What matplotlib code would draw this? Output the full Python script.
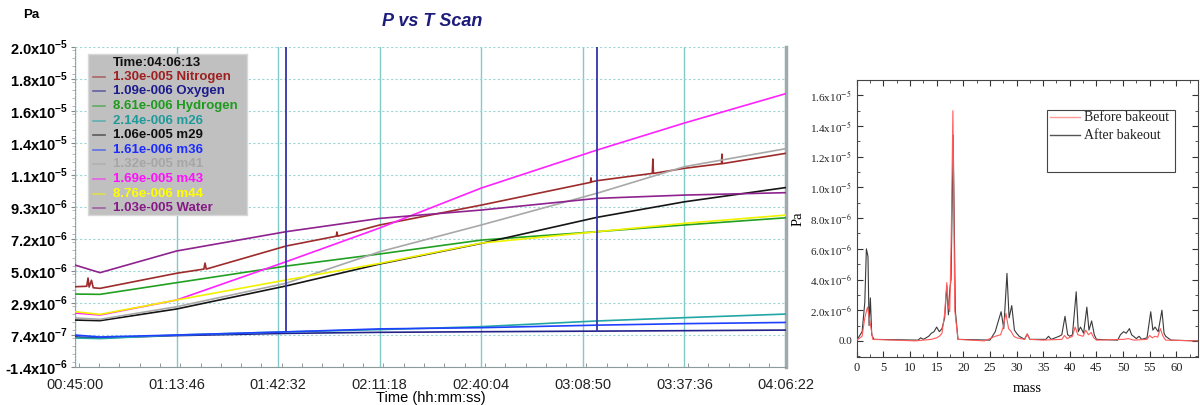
import matplotlib
matplotlib.use('Agg')
import matplotlib.pyplot as plt
from matplotlib.patches import Rectangle
from matplotlib.lines import Line2D
from matplotlib.ticker import FixedLocator, MultipleLocator

plt.rcParams['font.family'] = ['Liberation Sans', 'DejaVu Sans']
plt.rcParams['mathtext.fontset'] = 'custom'
plt.rcParams['mathtext.rm'] = 'Liberation Sans'
plt.rcParams['mathtext.bf'] = 'Liberation Sans:bold'
plt.rcParams['axes.unicode_minus'] = False

# ---- left panel: P vs T scan (values in 1e-6 Pa) ----
TIMES = ["00:45:00", "00:52:05", "01:13:46", "01:44:45", "02:11:18",
         "02:40:04", "03:12:49", "03:37:36", "04:06:13"]
OXYGEN = [0.61, 0.55, 0.70, 0.85, 0.92, 0.96, 1.00, 1.03, 1.07]
HYDROGEN = [3.48, 3.46, 4.24, 5.35, 6.16, 7.09, 7.65, 8.10, 8.58]
M26 = [0.54, 0.50, 0.74, 0.95, 1.10, 1.30, 1.68, 1.90, 2.14]
M29 = [1.74, 1.70, 2.48, 4.02, 5.49, 6.87, 8.61, 9.65, 10.6]
M36 = [0.74, 0.61, 0.74, 0.95, 1.15, 1.23, 1.40, 1.50, 1.58]
M41 = [1.88, 1.79, 2.63, 4.20, 6.31, 8.10, 10.22, 12.00, 13.2]
M43 = [2.21, 2.08, 3.08, 5.64, 7.90, 10.57, 13.11, 14.92, 16.88]
M44 = [2.30, 2.12, 3.08, 4.42, 5.53, 6.89, 7.65, 8.21, 8.76]
WATER = [5.42, 4.91, 6.36, 7.65, 8.54, 9.10, 9.88, 10.10, 10.26]

N2_TIMES = ["00:45:00", "00:48:20", "00:48:41", "00:49:00", "00:49:40",
            "00:50:10", "00:52:05", "01:13:46", "01:21:30", "01:21:49",
            "01:22:10", "01:44:45", "01:59:00", "01:59:11", "01:59:25",
            "02:11:18", "02:40:04", "03:11:00", "03:11:07", "03:11:15",
            "03:12:49", "03:28:30", "03:28:40", "03:28:50", "03:37:36",
            "03:48:05", "03:48:13", "03:48:20", "04:06:13"]
NITROGEN = [3.97, 4.00, 4.55, 3.95, 4.40, 3.90, 3.86, 4.87, 5.15, 5.55,
            5.15, 6.69, 7.35, 7.63, 7.35, 8.10, 9.43, 10.95, 11.25, 10.98,
            11.06, 11.55, 12.51, 11.55, 11.89, 12.20, 12.84, 12.20, 12.89]

CURSOR_TIMES = ["01:44:45", "03:12:49"]
CURSOR_BOTTOM = 1.0

XTICK_LABELS = ["00:45:00", "01:13:46", "01:42:32", "02:11:18",
                "02:40:04", "03:08:50", "03:37:36", "04:06:22"]
YTICKS = [-1.4, 0.74, 2.88, 5.02, 7.16, 9.30, 11.44, 13.58, 15.72, 17.86, 20.0]
YTICK_LABELS = ["-1.4x10$^{\\mathbf{-6}}$", "7.4x10$^{\\mathbf{-7}}$",
                "2.9x10$^{\\mathbf{-6}}$", "5.0x10$^{\\mathbf{-6}}$",
                "7.2x10$^{\\mathbf{-6}}$", "9.3x10$^{\\mathbf{-6}}$",
                "1.1x10$^{\\mathbf{-5}}$", "1.4x10$^{\\mathbf{-5}}$",
                "1.6x10$^{\\mathbf{-5}}$", "1.8x10$^{\\mathbf{-5}}$",
                "2.0x10$^{\\mathbf{-5}}$"]

LEGEND_TIME = "Time:04:06:13"
LEGEND_TEXT = ["1.30e-005 Nitrogen", "1.09e-006 Oxygen", "8.61e-006 Hydrogen",
               "2.14e-006 m26", "1.06e-005 m29", "1.61e-006 m36",
               "1.32e-005 m41", "1.69e-005 m43", "8.76e-006 m44",
               "1.03e-005 Water"]

# ---- right panel: mass spectrum (mass, 1e-6 Pa) ----
BEFORE = [(0, 0.05), (1.0, 0.3), (1.5, 1.5), (2.0, 2.2), (2.5, 1.2), (3.0, 0.1),
          (11, 0.0), (14, 0.1), (15, 0.2), (15.5, 0.3), (16, 0.5), (16.5, 1.8),
          (16.9, 3.8), (17.2, 2.2), (17.45, 1.9), (17.7, 6.0), (18.05, 15.0),
          (18.4, 2.0), (19, 0.1), (24, 0.0), (26, 0.3), (27, 0.4), (27.5, 0.9),
          (28.0, 1.8), (28.5, 0.8), (29.0, 0.6), (29.5, 0.3), (30, 0.2),
          (31.5, 0.1), (32, 0.45), (32.5, 0.1), (35, 0.05), (38.5, 0.1),
          (39, 0.35), (39.5, 0.15), (40.5, 0.3), (41, 0.9), (41.5, 0.4),
          (42, 0.35), (42.5, 0.3), (43, 0.7), (43.5, 0.4), (44, 0.55),
          (44.5, 0.2), (45, 0.05), (50, 0.1), (51, 0.15), (52, 0.05),
          (54.5, 0.1), (55, 0.35), (55.5, 0.2), (56, 0.3), (56.5, 0.25),
          (57, 0.8), (57.5, 0.3), (58, 0.05), (64, 0.0)]
AFTER = [(0, 0.05), (1.0, 0.6), (1.5, 2.5), (1.8, 6.0), (2.1, 5.5), (2.3, 1.0),
         (2.55, 2.8), (2.8, 0.4), (3.2, 0.1), (11.5, 0.05), (12, 0.2), (12.5, 0.1),
         (13.5, 0.3), (14, 0.5), (14.5, 0.6), (15, 0.9), (15.5, 0.6), (16, 0.8),
         (16.5, 1.5), (16.9, 3.6), (17.2, 1.7), (17.45, 3.3), (17.7, 4.0),
         (18.1, 13.4), (18.5, 2.0), (19, 0.1), (25, 0.05), (26, 0.6), (26.5, 1.2),
         (27.1, 1.9), (27.6, 0.8), (28.2, 4.4), (28.6, 1.5), (29.1, 2.3),
         (29.6, 0.7), (30, 0.5), (30.5, 0.3), (31.5, 0.1), (32, 0.45), (32.5, 0.1),
         (35.5, 0.1), (36, 0.3), (36.5, 0.1), (38, 0.3), (38.5, 0.4), (39.1, 1.6),
         (39.6, 0.4), (40, 0.3), (40.5, 0.4), (41.2, 3.2), (41.6, 0.6), (42, 0.9),
         (42.6, 0.5), (43.2, 2.2), (43.6, 0.7), (44.1, 1.3), (44.6, 0.4),
         (45, 0.1), (49, 0.05), (49.5, 0.4), (50.1, 0.6), (50.6, 0.5), (51.2, 0.8),
         (51.6, 0.4), (52.5, 0.15), (53, 0.3), (53.5, 0.1), (54.5, 0.2),
         (55.2, 1.9), (55.6, 0.7), (56, 0.9), (56.6, 0.6), (57.3, 2.0),
         (57.7, 0.5), (58, 0.3), (59, 0.05), (64, 0.0)]
RIGHT_YTICKS = [0, 2, 4, 6, 8, 10, 12, 14, 16]
RIGHT_YTICK_LABELS = ["0.0", "2.0x10$^{-6}$", "4.0x10$^{-6}$", "6.0x10$^{-6}$",
                      "8.0x10$^{-6}$", "1.0x10$^{-5}$", "1.2x10$^{-5}$",
                      "1.4x10$^{-5}$", "1.6x10$^{-5}$"]


def hms(s):
    h, m, sec = s.split(':')
    return int(h) * 3600 + int(m) * 60 + int(sec)


t = [hms(s) for s in TIMES]
tn2 = [hms(s) for s in N2_TIMES]

fig = plt.figure(figsize=(12, 4.05), dpi=100)
ax = fig.add_axes([0.0625, 0.0938, 0.5925, 0.790])

series = [
    (NITROGEN, tn2, '#9e2b2b', '#9e2020'),
    (OXYGEN, t, '#22228a', '#1c1c8c'),
    (HYDROGEN, t, '#22a022', '#1e9a1e'),
    (M26, t, '#22a6a6', '#1f9a9a'),
    (M29, t, '#151515', '#101010'),
    (M36, t, '#2040ff', '#1a2cff'),
    (M41, t, '#a8a8a8', '#a6a6a6'),
    (M43, t, '#ff22ff', '#ff10ff'),
    (M44, t, '#f2f200', '#ffff00'),
    (WATER, t, '#8e228e', '#851a85'),
]
for vals, tt, col, _ in series:
    ax.plot(tt, vals, color=col, lw=1.2, zorder=3)

for c in CURSOR_TIMES:
    ax.plot([hms(c), hms(c)], [CURSOR_BOTTOM, YTICKS[-1]], color='#3434a8',
            lw=1.3, zorder=4)

xt = [hms(s) for s in XTICK_LABELS]
ax.set_xlim(xt[0], xt[-1])
ax.set_ylim(YTICKS[0], YTICKS[-1])
ax.xaxis.set_major_locator(FixedLocator(xt))
ax.set_xticklabels(XTICK_LABELS, fontsize=10.5)
ax.xaxis.set_minor_locator(MultipleLocator((xt[1] - xt[0]) / 5))
ax.set_yticks(YTICKS)
ax.set_yticklabels(YTICK_LABELS, fontsize=10.5, fontweight='bold')
ax.yaxis.set_minor_locator(MultipleLocator((YTICKS[1] - YTICKS[0]) / 4))
ax.tick_params(axis='x', which='major', length=0, pad=8, colors='#222222')
ax.tick_params(axis='x', which='minor', direction='in', length=3, color='#888888')
ax.tick_params(axis='y', which='major', length=3, pad=2, color='#888888')
ax.tick_params(axis='y', which='minor', length=2, color='#aaaaaa')
ax.grid(True, axis='x', color='#82caca', lw=1.0, ls='-', zorder=1)
ax.grid(True, axis='y', color='#9fd6d6', lw=0.8, ls=(0, (2, 2)), zorder=1)
ax.spines['top'].set_visible(False)
ax.spines['left'].set_color('#999999')
ax.spines['left'].set_linestyle((0, (1, 2)))
ax.spines['bottom'].set_color('#8c9c9c')
ax.spines['right'].set_color('#a0aaaa')
ax.spines['right'].set_linewidth(2.5)
ax.set_xlabel('Time (hh:mm:ss)', fontsize=10.5, labelpad=-1)

# value box (legend)
ax.add_patch(Rectangle((0.018, 0.475), 0.224, 0.503, transform=ax.transAxes,
                       facecolor='#c0c0c0', edgecolor='#d8d8d8', lw=1, zorder=5))
ax.text(0.0534, 0.951, LEGEND_TIME, transform=ax.transAxes, fontsize=9.5,
        fontweight='bold', color='#111111', va='center', zorder=6)
for i, (label, (_, _, lcol, tcol)) in enumerate(zip(LEGEND_TEXT, series)):
    yy = 0.907 - i * 0.0456
    ax.add_line(Line2D([0.0253, 0.0422], [yy, yy], transform=ax.transAxes,
                       color=lcol, lw=1.2, alpha=0.6, zorder=6))
    ax.text(0.0534, yy, label, transform=ax.transAxes, fontsize=9.5,
            fontweight='bold', color=tcol, va='center', zorder=6)

fig.text(0.36, 0.946, 'P vs T Scan', fontsize=13, fontweight='bold',
         fontstyle='italic', color='#1c1c7c', ha='center', va='center')
fig.text(0.019, 0.963, 'Pa', fontsize=9.5, fontweight='bold', va='center')

# ---- right panel ----
serif = ['Liberation Serif', 'DejaVu Serif']
ax2 = fig.add_axes([0.714, 0.1185, 0.284, 0.684])
bm, bv = zip(*BEFORE)
am, av = zip(*AFTER)
ax2.plot(am, av, color='#3a3a3a', lw=0.8, label='After bakeout', zorder=2)
ax2.plot(bm, bv, color='#ff5a5a', lw=0.8, label='Before bakeout', zorder=3)
ax2.set_xlim(0, 64)
ax2.set_ylim(-1.05, 17.0)
ax2.xaxis.set_major_locator(MultipleLocator(5))
ax2.xaxis.set_minor_locator(MultipleLocator(2.5))
ax2.set_yticks(RIGHT_YTICKS)
ax2.set_yticklabels(RIGHT_YTICK_LABELS, fontsize=8, family=serif,
                    math_fontfamily='stix', color='#222222')
ax2.yaxis.set_minor_locator(MultipleLocator(1))
for lab in ax2.get_xticklabels():
    lab.set_fontfamily(serif)
ax2.tick_params(axis='x', labelsize=9, labelcolor='#222222')
ax2.tick_params(which='both', direction='in', top=True, right=True, color='#333333')
ax2.tick_params(which='major', length=4)
ax2.tick_params(which='minor', length=2)
for sp in ax2.spines.values():
    sp.set_color('#444444')
    sp.set_linewidth(0.8)
ax2.set_xlabel('mass', fontsize=10.5, family=serif, labelpad=6)
ax2.set_ylabel('Pa', fontsize=10.5, family=serif, labelpad=4)

ax2.add_patch(Rectangle((0.557, 0.668), 0.378, 0.224, transform=ax2.transAxes,
                        facecolor='white', edgecolor='#444444', lw=0.8, zorder=5))
for yy, col, lab in [(0.866, '#ff9a9a', 'Before bakeout'),
                     (0.800, '#555555', 'After bakeout')]:
    ax2.add_line(Line2D([0.566, 0.654], [yy, yy], transform=ax2.transAxes,
                        color=col, lw=1.0, zorder=6))
    ax2.text(0.666, yy, lab, transform=ax2.transAxes, fontsize=10,
             family=serif, color='#222222', va='center', zorder=6)

fig.savefig('out.png', dpi=100)
